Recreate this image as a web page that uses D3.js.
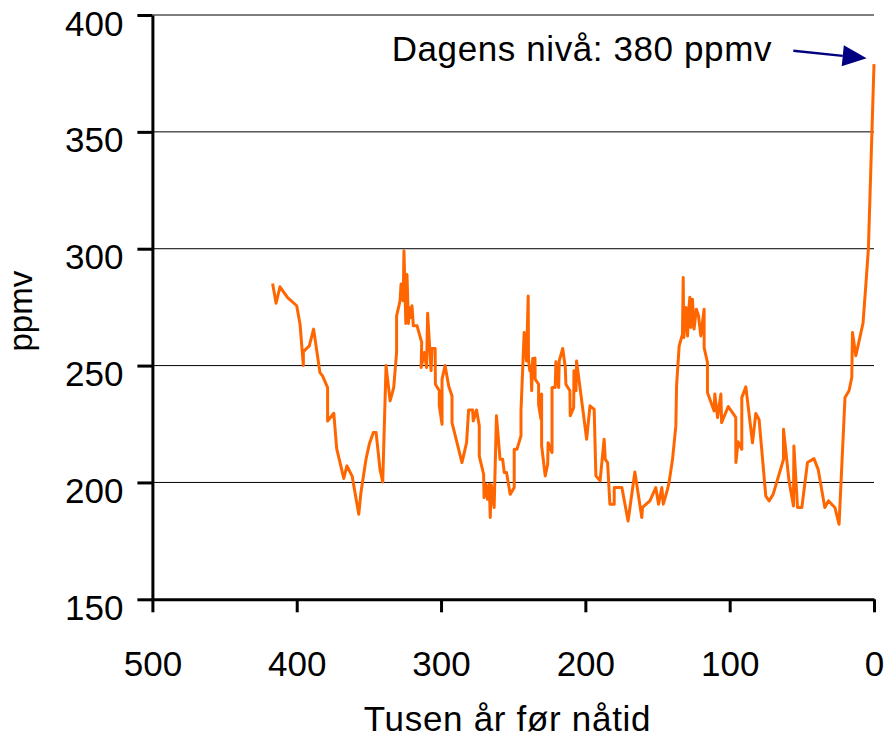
<!DOCTYPE html>
<html>
<head>
<meta charset="utf-8">
<script src="https://cdn.jsdelivr.net/npm/d3@7"></script>
<style>
  html, body { margin: 0; padding: 0; background: #fff; }
  svg { display: block; }
  text { font-family: "Liberation Sans", Arial, sans-serif; fill: #000; }
</style>
</head>
<body>
<svg id="chart" width="889" height="738"></svg>
<script>
// ---- data (thousand years before present, CO2 ppmv) ----
const years = [
  416.7, 414.3, 411.6, 406.3, 400.0, 397.7, 395.4, 395.4, 391.3, 388.3,
  383.9, 382.1, 378.6, 378.6, 374.3, 372.3, 367.4, 365.2, 361.6, 357.0,
  355.5, 352.0, 349.7, 346.9, 345.0, 342.3, 340.4, 338.1, 335.3, 332.8,
  330.8, 330.8, 328.4, 327.7, 326.2, 325.7, 324.4, 323.6, 322.6, 322.0,
  320.8, 320.1, 319.2, 316.6, 313.4, 313.8, 311.6, 310.0, 309.3, 306.9,
  306.3, 304.1, 303.9, 301.2, 301.2, 299.3, 299.3, 297.2, 294.7, 292.4,
  292.4, 285.5, 282.3, 280.9, 278.1, 277.7, 275.4, 273.5, 273.5, 270.5,
  270.2, 268.9, 267.8, 266.6, 265.9, 265.2, 263.2, 261.6, 259.1, 257.3,
  256.2, 254.6, 252.1, 249.3, 249.3, 247.4, 244.6, 244.6, 242.4, 240.8,
  239.6, 239.4, 238.5, 237.7, 237.2, 236.5, 234.9, 234.8, 232.4, 232.4,
  230.8, 230.3, 230.3, 227.8, 226.1, 225.8, 223.1, 223.1, 220.9, 220.4,
  218.5, 218.1, 215.7, 213.9, 213.5, 210.7, 210.5, 208.1, 207.9, 206.5,
  206.1, 199.1, 196.8, 193.9, 192.7, 189.8, 187.0, 186.2, 184.6, 183.0,
  180.0, 180.0, 174.7, 170.4, 165.7, 160.9, 160.4, 155.3, 151.2, 149.3,
  147.0, 146.0, 144.7, 143.1, 142.0, 139.6, 137.3, 136.8, 135.0, 132.7,
  132.2, 131.8, 130.3, 129.2, 128.2, 127.6, 126.9, 125.8, 124.7, 123.1,
  121.6, 120.0, 117.7, 117.7, 115.4, 115.4, 110.8, 110.3, 108.4, 106.1,
  105.6, 101.0, 95.8, 95.7, 94.2, 91.6, 91.6, 88.8, 84.2, 81.9,
  79.6, 75.0, 72.7, 69.9, 62.7, 62.7, 58.9, 55.8, 55.5, 53.0,
  50.0, 46.1, 41.6, 38.7, 34.1, 31.6, 27.1, 24.2, 20.1, 17.3,
  15.4, 14.9, 12.6, 10.8, 7.6, 5.7, 3.9, 0.0
];
const co2 = [
  285.1, 276.7, 283.7, 279.1, 275.6, 267.7, 250.0, 256.0, 258.4, 265.6,
  247.0, 245.6, 240.6, 226.3, 229.6, 214.5, 201.7, 207.1, 202.7, 186.4,
  195.7, 209.9, 216.4, 221.4, 221.4, 205.6, 200.2, 250.0, 234.9, 240.6,
  255.6, 271.3, 277.7, 284.9, 277.7, 299.1, 268.0, 289.0, 268.0, 274.9,
  270.6, 275.6, 267.0, 267.0, 259.9, 249.2, 255.6, 249.2, 272.4, 247.8,
  257.3, 257.3, 242.0, 239.2, 232.8, 224.9, 244.2, 250.0, 241.3, 237.0,
  225.6, 208.5, 217.0, 231.0, 231.0, 226.3, 231.0, 224.2, 211.3, 203.5,
  193.5, 199.2, 192.8, 199.2, 185.0, 199.0, 189.3, 228.5, 209.9, 209.9,
  204.2, 204.2, 194.9, 197.8, 214.2, 214.2, 219.9, 230.6, 264.2, 252.0,
  279.8, 252.7, 247.8, 248.5, 239.2, 253.0, 253.2, 244.2, 242.0, 233.3,
  227.1, 237.8, 215.6, 202.8, 207.8, 217.0, 212.8, 240.6, 240.6, 251.6,
  240.6, 252.0, 257.3, 249.2, 242.0, 239.2, 228.5, 232.0, 247.8, 239.2,
  252.0, 218.5, 232.8, 231.3, 202.8, 200.7, 218.5, 209.9, 208.5, 190.7,
  190.7, 197.8, 197.8, 183.5, 204.5, 185.0, 189.3, 192.1, 197.8, 190.7,
  197.8, 190.7, 193.5, 197.0, 200.0, 209.9, 224.2, 241.3, 258.4, 263.4,
  287.7, 262.0, 274.9, 262.7, 275.0, 279.2, 266.3, 278.4, 265.6, 274.1,
  271.3, 262.7, 274.1, 257.7, 251.3, 238.5, 230.6, 237.8, 227.8, 237.8,
  225.6, 232.5, 227.8, 208.5, 217.4, 214.2, 236.3, 240.9, 217.0, 229.5,
  226.8, 194.2, 192.1, 194.9, 209.9, 222.8, 200.7, 189.9, 215.6, 189.3,
  189.3, 208.5, 210.2, 205.6, 189.3, 192.1, 189.3, 182.1, 236.3, 239.2,
  244.9, 264.2, 254.2, 259.2, 268.2, 284.1, 299.8, 379.0
];
const xTicks = [500, 400, 300, 200, 100, 0];
const yTicks = [150, 200, 250, 300, 350, 400];
const xTitle = "Tusen år før nåtid";
const yTitle = "ppmv";
const noteText = "Dagens nivå: 380 ppmv";
const noteAt = [334.2, 380.3];          // text anchor (years, ppmv)
const arrowFrom = [55.9, 384.7];         // arrow start (years, ppmv)
const arrowTo = [5.1, 381.5];            // arrow tip (years, ppmv)

// ---- layout ----
const svg = d3.select("#chart");
const x = d3.scaleLinear().domain([500, 0]).range([152.4, 874]);
const y = d3.scaleLinear().domain([150, 400]).range([599.3, 15]);
const FONT = 35;

// gridlines
svg.append("g")
  .selectAll("line")
  .data(yTicks.filter(v => v > 150))
  .join("line")
  .attr("x1", x(500)).attr("x2", x(0))
  .attr("y1", d => y(d)).attr("y2", d => y(d))
  .attr("stroke", "#000").attr("stroke-width", 1);

// data line
const pts = years.map((yr, i) => [yr, co2[i]]);
svg.append("path")
  .datum(pts)
  .attr("fill", "none")
  .attr("stroke", "#FF6600")
  .attr("stroke-width", 3)
  .attr("stroke-linejoin", "round")
  .attr("d", d3.line().x(d => x(d[0])).y(d => y(d[1])));

// y axis
const gy = svg.append("g")
  .attr("transform", `translate(${x(500)},0)`)
  .call(d3.axisLeft(y).tickValues(yTicks).tickSize(15).tickSizeOuter(0).tickFormat(d3.format("d")));
gy.select(".domain").attr("stroke", "#000").attr("stroke-width", 3);
gy.selectAll(".tick line").attr("stroke", "#000").attr("stroke-width", 3);
gy.selectAll(".tick text")
  .attr("x", -29).attr("dy", "20px")
  .style("font-size", FONT + "px")
  .style("font-family", '"Liberation Sans", Arial, sans-serif')
  .attr("fill", "#000");

// x axis
const gx = svg.append("g")
  .attr("transform", `translate(0,${y(150)})`)
  .call(d3.axisBottom(x).tickValues(xTicks).tickSize(13).tickSizeOuter(0).tickFormat(d3.format("d")));
gx.select(".domain").attr("stroke", "#000").attr("stroke-width", 3);
gx.selectAll(".tick line").attr("stroke", "#000").attr("stroke-width", 3);
gx.selectAll(".tick text")
  .attr("y", 76.5).attr("dy", null)
  .style("font-size", FONT + "px")
  .style("font-family", '"Liberation Sans", Arial, sans-serif')
  .attr("fill", "#000");

// axis titles
svg.append("text")
  .attr("x", 507.5)
  .attr("y", 731)
  .attr("text-anchor", "middle")
  .style("font-size", FONT + "px")
  .style("letter-spacing", "0.7px")
  .text(xTitle);

svg.append("text")
  .attr("transform", `translate(31.7,${(y(150) + y(400)) / 2 + 4}) rotate(-90)`)
  .attr("text-anchor", "middle")
  .style("font-size", "33px")
  .text(yTitle);

// annotation
svg.append("text")
  .attr("x", x(noteAt[0]))
  .attr("y", y(noteAt[1]))
  .style("font-size", FONT + "px")
  .style("letter-spacing", "0.6px")
  .text(noteText);

const ax0 = x(arrowFrom[0]), ay0 = y(arrowFrom[1]);
const ax1 = x(arrowTo[0]), ay1 = y(arrowTo[1]);
const ang = Math.atan2(ay1 - ay0, ax1 - ax0);
const headLen = 24, headHalf = 10.5;
const bx = ax1 - headLen * Math.cos(ang), by = ay1 - headLen * Math.sin(ang);
svg.append("line")
  .attr("x1", ax0).attr("y1", ay0).attr("x2", bx).attr("y2", by)
  .attr("stroke", "#000080").attr("stroke-width", 2.3);
svg.append("polygon")
  .attr("points", [
    [ax1, ay1],
    [bx + headHalf * Math.sin(ang), by - headHalf * Math.cos(ang)],
    [bx - headHalf * Math.sin(ang), by + headHalf * Math.cos(ang)]
  ].map(p => p.join(",")).join(" "))
  .attr("fill", "#000080");
</script>
</body>
</html>
